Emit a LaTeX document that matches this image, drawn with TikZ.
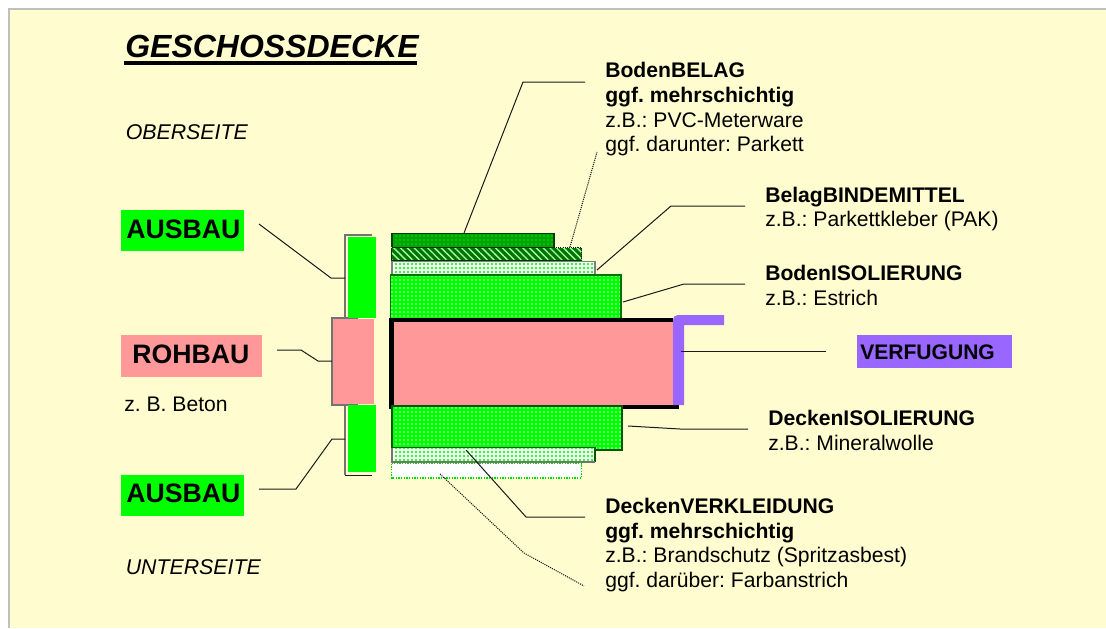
\documentclass[tikz,border=0pt]{standalone}
\usepackage{fontspec}
\setmainfont{Liberation Sans}
\usetikzlibrary{patterns.meta}
\frenchspacing
\definecolor{paper}{HTML}{FFFDCF}
\definecolor{lime}{HTML}{00FF00}
\definecolor{rose}{HTML}{FF9999}
\definecolor{violet}{HTML}{9966FF}
\definecolor{dkgreen}{HTML}{009900}
\tikzset{
  x=0.75pt,y=-0.75pt,
  conn/.style={draw=black!90,line width=0.75pt},
  dotconn/.style={draw=black!90,line width=0.8pt,dash pattern=on 0.8pt off 0.8pt},
  brk/.style={draw=black!55,line width=1.2pt},
  lbl/.style={anchor=west,inner sep=0pt,align=left,font=\fontsize{15.85}{18.5}\selectfont},
  tag/.style={anchor=center,inner sep=0pt,font=\fontsize{20}{24}\bfseries\selectfont},
  spk/.style={pattern={Dots[radius=0.72pt,distance=3pt]},pattern color=white!85!lime},
  lightspk/.style={pattern={Dots[radius=1.05pt,distance=3pt]},pattern color=lime!90!white},
}
\begin{document}
\begin{tikzpicture}
\useasboundingbox (0,0) rectangle (1106,628);
\fill[white] (0,0) rectangle (1106,628);
\fill[paper] (9,9) rectangle (1106,628);
\draw[draw=black!25,line width=1.5pt] (9,628) -- (9,9) -- (1106,9);
% brackets and left bars
\draw[brk] (372,235) -- (345,235) -- (345,318);
\draw[brk] (345,405) -- (345,475);
\draw[conn] (345,475) -- (372,475);
\draw[brk] (358,318) -- (332,318) -- (332,405) -- (358,405);
\fill[white] (333,318.5) rectangle (374,404);
\node[fill=lime,minimum width=21pt,minimum height=60.75pt,inner sep=0pt,anchor=north west] (ga) at (348,237) {};
\node[fill=rose,minimum width=30.75pt,minimum height=63.75pt,inner sep=0pt,anchor=north west] (pk) at (333,319) {};
\node[fill=lime,minimum width=21pt,minimum height=50.25pt,inner sep=0pt,anchor=north west] (gb) at (348,405) {};
% layers
\fill[dkgreen!90!lime] (392,233.5) rectangle (554,247);
\fill[pattern={Dots[radius=0.7pt,distance=3pt]},pattern color=lime!70!dkgreen] (392,233.5) rectangle (554,247);
\draw[black!75!green,line width=0.8pt] (392,247) -- (392,233.5) -- (554,233.5) -- (554,247);
\fill[dkgreen!75!black] (391.5,247.5) rectangle (581.5,261);
\fill[pattern={Lines[angle=-45,distance=3.6pt,line width=1pt]},pattern color=white!65!green] (391.5,247.5) rectangle (581.5,261);
\draw[black!80!green,line width=0.8pt] (391.5,247.5) -- (554,247.5);
\draw[black!80!green,line width=0.8pt] (391.5,261) -- (581.5,261);
\draw[black!80!green,line width=0.8pt] (391.5,247.5) -- (391.5,261);
\draw[dotconn,line width=0.8pt] (554,247.5) -- (581.5,247.5) -- (581.5,261);
\fill[white] (392,261.5) rectangle (595,275);
\fill[lightspk] (392,261.5) rectangle (595,275);
\draw[black!50,line width=0.9pt] (392,275) -- (392,261.5) -- (595,261.5) -- (595,275);
\fill[lime] (390.5,275) rectangle (621,318);
\fill[spk] (390.5,275) rectangle (621,318);
\draw[black!55!green,line width=0.8pt] (390.5,318) -- (390.5,275) -- (621,275) -- (621,318);
% core
\fill[black] (389,317.5) rectangle (673,409);
\fill[black] (673,405) rectangle (679,409);
\node[fill=rose,minimum width=209.25pt,minimum height=62.25pt,inner sep=0pt,anchor=north west] (core) at (394,322) {};
\fill[violet] (684,405) -- (673,405) -- (673,320) .. controls (673,317) and (675,315) .. (678,315) -- (724,315) -- (724,325) -- (684,325) -- cycle;
% lower layers
\fill[lime] (392,406) rectangle (622,450);
\fill[spk] (392,406) rectangle (622,450);
\draw[black!65!green,line width=0.8pt] (392,406) rectangle (622,450);
\fill[white] (392,447.5) rectangle (595,462);
\fill[lightspk] (392,447.5) rectangle (595,462);
\draw[black!65!green,line width=0.8pt] (392,447.5) -- (595,447.5) -- (595,462);
\draw[black!55,line width=0.9pt] (392,447.5) -- (392,462) -- (595,462);
\fill[white] (391.5,463.5) rectangle (581.5,478);
\draw[lime!85!black,line width=0.8pt,dash pattern=on 1pt off 1pt] (391.5,463.5) rectangle (581.5,478);
% tags
\node[fill=lime,minimum width=92.25pt,minimum height=30.75pt,inner sep=0pt] (t1) at (182.5,230.5) {};
\node[tag,anchor=west] (t1t) at (126,229.5) {AUSBAU};
\node[fill=rose,minimum width=105.75pt,minimum height=31.5pt,inner sep=0pt] (t2) at (191.5,356) {};
\node[tag] (t2t) at (191,354.5) {ROHBAU};
\node[fill=lime,minimum width=92.25pt,minimum height=30.75pt,inner sep=0pt] (t3) at (182.5,495.5) {};
\node[tag,anchor=west] (t3t) at (126,493.5) {AUSBAU};
\node[fill=violet,minimum width=116.25pt,minimum height=24.75pt,inner sep=0pt] (t4) at (934.5,351.5) {};
\node[tag,anchor=west,font=\fontsize{15.8}{19}\bfseries\selectfont] (t4t) at (860,352) {VERFUGUNG};
% titles
\node[anchor=west,inner sep=0pt,font=\fontsize{24}{28}\bfseries\itshape\selectfont] (title) at (125,46.5) {GESCHOSSDECKE};
\node[fill=black,minimum width=219.75pt,minimum height=3pt,inner sep=0pt,anchor=north west] (ul) at (124,61) {};
\node[lbl,font=\fontsize{16}{19}\itshape\selectfont] (ob) at (125.5,132.5) {OBERSEITE};
\node[lbl,font=\fontsize{16}{19}\itshape\selectfont] (un) at (125.5,567.5) {UNTERSEITE};
\node[lbl] (bet) at (124,404) {z. B. Beton};
% right labels
\node[lbl] (l1) at (605,109.5) {\textbf{BodenBELAG}\\\textbf{ggf. mehrschichtig}\\z.B.: PVC-Meterware\\ggf. darunter: Parkett};
\node[lbl] (l2) at (765,209) {\textbf{BelagBINDEMITTEL}\\z.B.: Parkettkleber (PAK)};
\node[lbl] (l3) at (765,285.5) {\textbf{BodenISOLIERUNG}\\z.B.: Estrich};
\node[lbl] (l4) at (768,430.5) {\textbf{DeckenISOLIERUNG}\\z.B.: Mineralwolle};
\node[lbl] (l5) at (605,545) {\textbf{DeckenVERKLEIDUNG}\\\textbf{ggf. mehrschichtig}\\z.B.: Brandschutz (Spritzasbest)\\ggf. darüber: Farbanstrich};
% connector anchors
\coordinate (c1a) at (259,224); \coordinate (c1b) at (331,278); \coordinate (c1c) at (345,278);
\coordinate (c2a) at (277,350); \coordinate (c2b) at (301,350); \coordinate (c2c) at (318,361); \coordinate (c2d) at (332,361);
\coordinate (c3a) at (259,489); \coordinate (c3b) at (296,489); \coordinate (c3c) at (332,439); \coordinate (c3d) at (345,439);
\coordinate (d1a) at (464,233); \coordinate (d1b) at (523,82); \coordinate (d1c) at (585,82);
\coordinate (d2a) at (570,247); \coordinate (d2b) at (597,152);
\coordinate (d3a) at (597,270); \coordinate (d3b) at (671,206); \coordinate (d3c) at (745,206);
\coordinate (d4a) at (623,302); \coordinate (d4b) at (684,284); \coordinate (d4c) at (745,284);
\coordinate (d5a) at (628,426); \coordinate (d5b) at (680,429); \coordinate (d5c) at (748,429);
\coordinate (d6a) at (681,351); \coordinate (d6b) at (826,351);
\coordinate (d7a) at (466,450); \coordinate (d7b) at (526,517); \coordinate (d7c) at (585,517);
\coordinate (d8a) at (440,474); \coordinate (d8b) at (524,553); \coordinate (d8c) at (584,586);
\draw[conn] (c1a) -- (c1b) -- (c1c);
\draw[conn] (c2a) -- (c2b) -- (c2c) -- (c2d);
\draw[conn] (c3a) -- (c3b) -- (c3c) -- (c3d);
\draw[conn] (d1a) -- (d1b) -- (d1c);
\draw[dotconn] (d2a) -- (d2b);
\draw[conn] (d3a) -- (d3b) -- (d3c);
\draw[conn] (d4a) -- (d4b) -- (d4c);
\draw[conn] (d5a) -- (d5b) -- (d5c);
\draw[conn] (d6a) -- (d6b);
\draw[conn] (d7a) -- (d7b) -- (d7c);
\draw[dotconn] (d8a) -- (d8b) -- (d8c);
\end{tikzpicture}
\end{document}
